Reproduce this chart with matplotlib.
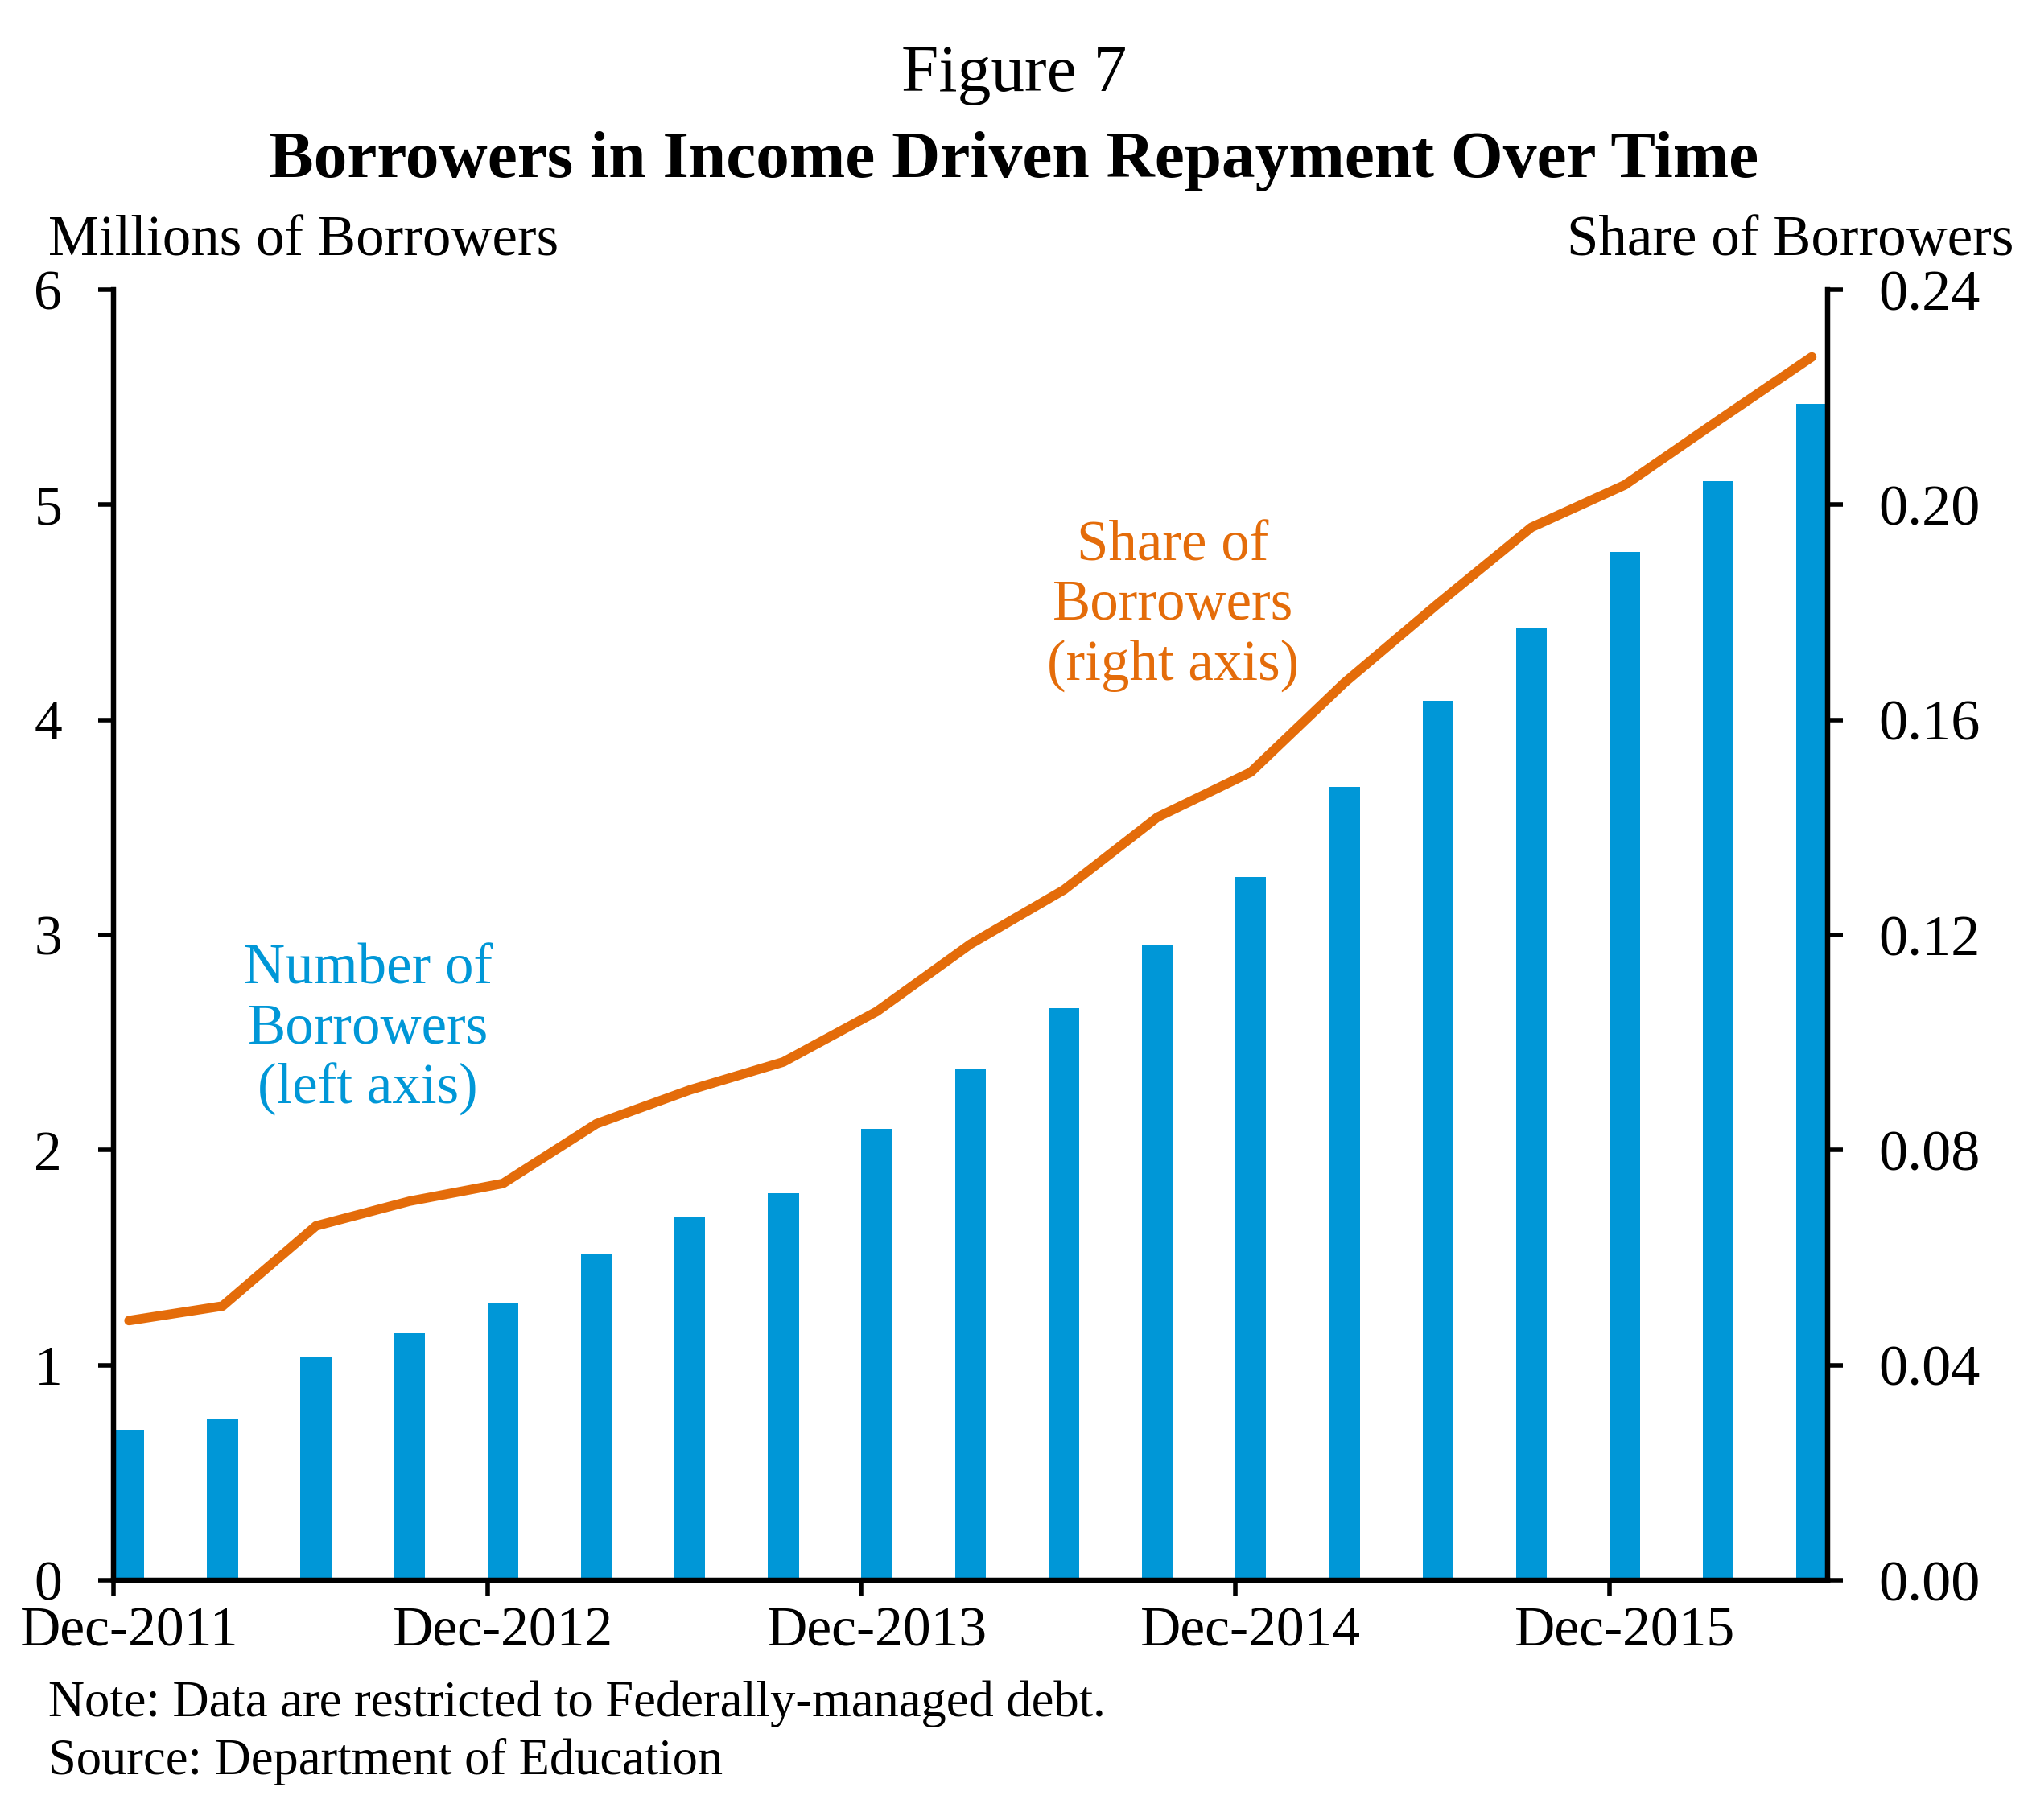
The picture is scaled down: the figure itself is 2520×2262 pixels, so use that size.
import numpy as np
import matplotlib
matplotlib.use("Agg")
import matplotlib.pyplot as plt

# quarterly, Dec-2011 .. Jun-2016
quarters = ["Dec-2011", "Mar-2012", "Jun-2012", "Sep-2012", "Dec-2012", "Mar-2013",
            "Jun-2013", "Sep-2013", "Dec-2013", "Mar-2014", "Jun-2014", "Sep-2014",
            "Dec-2014", "Mar-2015", "Jun-2015", "Sep-2015", "Dec-2015", "Mar-2016",
            "Jun-2016"]
borrowers_mn = [0.70, 0.75, 1.04, 1.15, 1.29, 1.52, 1.69, 1.80, 2.10, 2.38,
                2.66, 2.95, 3.27, 3.69, 4.09, 4.43, 4.78, 5.11, 5.47]
share = [0.0483, 0.0510, 0.0659, 0.0705, 0.0738, 0.0849, 0.0912, 0.0964, 0.1058,
         0.1183, 0.1284, 0.1419, 0.1503, 0.1669, 0.1816, 0.1958, 0.2037, 0.2157,
         0.2275]
left_ticks = [0, 1, 2, 3, 4, 5, 6]
right_ticks = [0.00, 0.04, 0.08, 0.12, 0.16, 0.20, 0.24]

BLUE = "#0097D7"
ORANGE = "#E46C0A"
BAR_W = 0.33

plt.rcParams['font.family'] = ['Liberation Serif', 'DejaVu Serif']
plt.rcParams['font.size'] = 50

fig = plt.figure(figsize=(25.2, 22.62), dpi=100)
ax = fig.add_axes([0.056, 0.1317, 0.845, 0.7091])
ax2 = ax.twinx()

x = np.arange(len(quarters))
ax.bar(x, borrowers_mn, width=BAR_W, align='edge', color=BLUE, zorder=2)
ax2.plot(x + BAR_W / 2, share, color=ORANGE, lw=8.5, solid_capstyle='round',
         solid_joinstyle='round', zorder=3)

ax.set_xlim(0, len(quarters) - 1 + BAR_W)
ax.set_ylim(0, 6)
ax2.set_ylim(0, 0.24)
ax.set_yticks(left_ticks)
ax.set_yticklabels([str(t) for t in left_ticks])
ax2.set_yticks(right_ticks)
ax2.set_yticklabels(["%.2f" % t for t in right_ticks])

# tick marks at the Dec bars' left edge, labels centred under the bar
dec_idx = [i for i, q in enumerate(quarters) if q.startswith("Dec")]
ax.set_xticks(dec_idx)
ax.set_xticklabels([])
ax.set_xticks([i + BAR_W / 2 for i in dec_idx], minor=True)
ax.set_xticklabels([quarters[i] for i in dec_idx], minor=True)
ax.tick_params(axis='x', which='minor', length=0, pad=24)

for a in (ax, ax2):
    a.spines['top'].set_visible(False)
    for s in ('left', 'right', 'bottom'):
        a.spines[s].set_linewidth(4.5)
    a.tick_params(which='major', width=4, length=14)
ax.tick_params(axis='y', pad=32)
ax2.tick_params(axis='y', pad=32, labelsize=52)

ax.text(2.72, 2.56, "Number of\nBorrowers\n(left axis)", color=BLUE, ha='center',
        va='center', fontsize=51, linespacing=1.18)
ax.text(11.33, 4.53, "Share of\nBorrowers\n(right axis)", color=ORANGE, ha='center',
        va='center', fontsize=51, linespacing=1.18)

fig.text(0.5, 0.950, "Figure 7", ha='center', va='baseline', fontsize=60)
fig.text(0.5, 0.9027, "Borrowers in Income Driven Repayment Over Time", ha='center',
         va='baseline', fontsize=60, fontweight='bold')
fig.text(0.024, 0.860, "Millions of Borrowers", ha='left', va='baseline', fontsize=51)
fig.text(0.993, 0.860, "Share of Borrowers", ha='right', va='baseline', fontsize=51)
fig.text(0.024, 0.057, "Note: Data are restricted to Federally-managed debt.",
         ha='left', va='baseline', fontsize=45)
fig.text(0.024, 0.025, "Source: Department of Education", ha='left', va='baseline',
         fontsize=45)

fig.savefig("out.png", dpi=100)
